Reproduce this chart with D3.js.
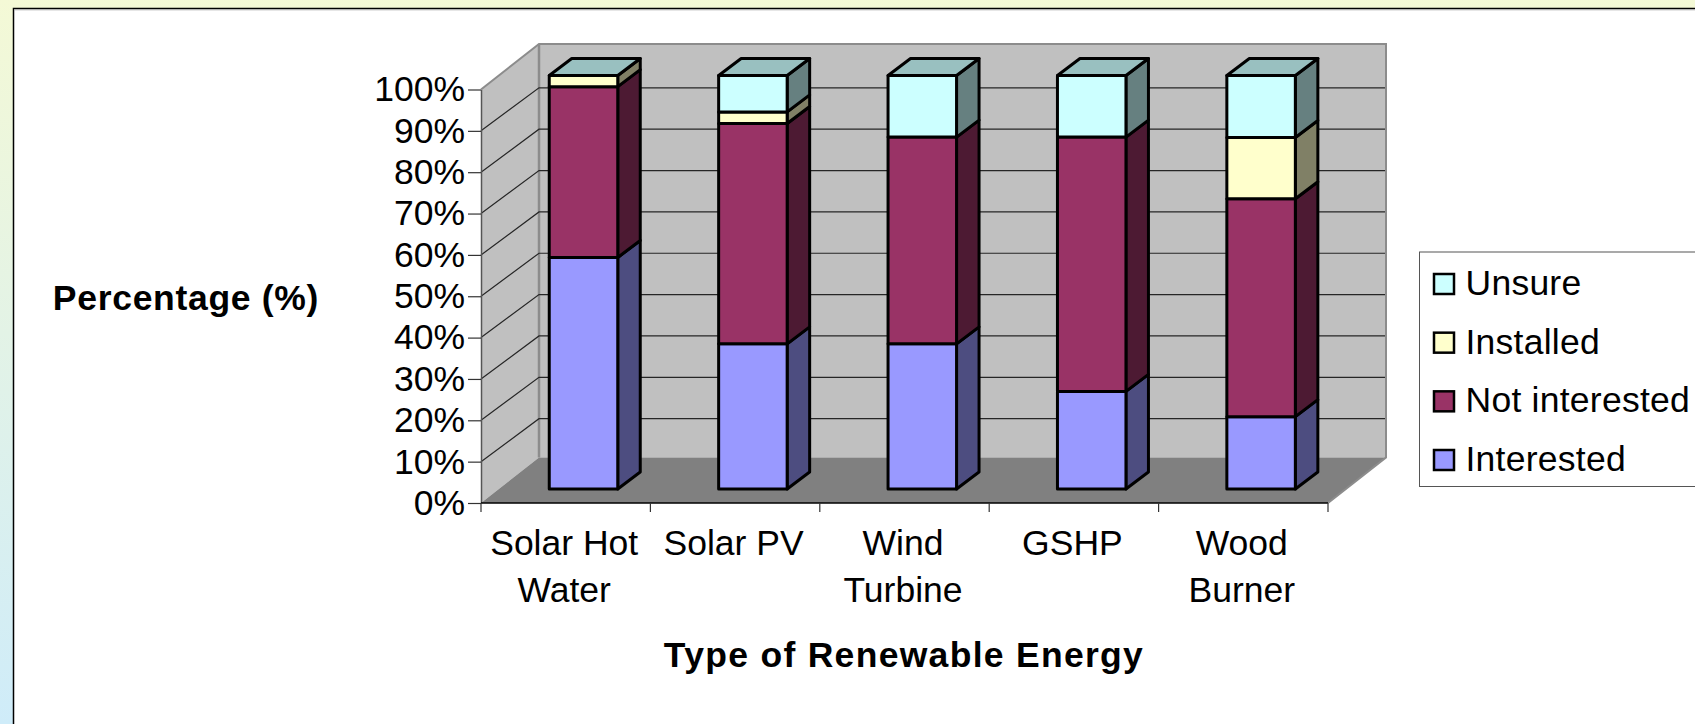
<!DOCTYPE html>
<html>
<head>
<meta charset="utf-8">
<script src="https://cdn.jsdelivr.net/npm/d3@7"></script>
<style>
html, body { margin: 0; padding: 0; background: #fff; overflow: hidden; }
svg { display: block; }
text { font-family: "Liberation Sans", Arial, sans-serif; fill: #000; }
</style>
</head>
<body>
<script>
var categories = ["Solar Hot Water", "Solar PV", "Wind Turbine", "GSHP", "Wood Burner"];
var categoryLines = [["Solar Hot", "Water"], ["Solar PV"], ["Wind", "Turbine"], ["GSHP"], ["Wood", "Burner"]];
var seriesNames = ["Interested", "Not interested", "Installed", "Unsure"];
var interested = [56, 35.1, 35.1, 23.6, 17.5];
var notInterested = [41.3, 53.3, 50, 61.5, 52.7];
var installed = [2.7, 2.8, 0, 0, 14.8];
var unsure = [0, 8.8, 14.9, 14.9, 15];
var seriesValues = [interested, notInterested, installed, unsure];
var yTicks = [0, 10, 20, 30, 40, 50, 60, 70, 80, 90, 100];

var frontColors = ["#9999ff", "#993366", "#ffffcc", "#ccffff"];
var sideColors = ["#4d4d80", "#4d1a33", "#808066", "#668080"];
var topColor = "#99c0c0";

var width = 1695, height = 724;

// plot box, front plane
var plot = {left: 481, right: 1328, top: 89.5, bottom: 503};
// how far the back wall is shifted from the front plane
var depth = {x: 58, y: -45.5};
// gridlines sit a little lower on the wall than the corners do
var gridRise = -43;
// one bar's depth, and its offset from the front plane
var barDepth = {x: 22.5, y: -17};
var barShift = {x: 17.8, y: -14};

var svg = d3.select("body").append("svg")
    .attr("width", width)
    .attr("height", height);

var defs = svg.append("defs");
var grad = defs.append("linearGradient")
    .attr("id", "pageBg")
    .attr("x1", 0).attr("y1", 0).attr("x2", 0).attr("y2", 1);
grad.append("stop").attr("offset", "0%").attr("stop-color", "#f4f9d6");
grad.append("stop").attr("offset", "100%").attr("stop-color", "#cfecf9");

svg.append("rect").attr("width", width).attr("height", height).attr("fill", "url(#pageBg)");

// white panel, runs off the right and bottom
svg.append("rect")
    .attr("x", 13.5).attr("y", 8.5)
    .attr("width", width).attr("height", height)
    .attr("fill", "#fff")
    .attr("stroke", "#000")
    .attr("stroke-width", 1.5);
svg.append("line")
    .attr("x1", 14).attr("x2", width)
    .attr("y1", 9.8).attr("y2", 9.8)
    .attr("stroke", "#aaa")
    .attr("stroke-width", 1);

var x = d3.scaleBand().domain(categories).range([plot.left, plot.right]);
var y = d3.scaleLinear().domain([0, 100]).range([plot.bottom, plot.top]);

function poly(pts) {
    return "M" + pts.map(function (p) { return p[0] + "," + p[1]; }).join("L") + "Z";
}

var chart = svg.append("g");

// side wall
chart.append("path")
    .attr("d", poly([
        [plot.left, plot.bottom], [plot.left, plot.top],
        [plot.left + depth.x, plot.top + depth.y], [plot.left + depth.x, plot.bottom + depth.y]
    ]))
    .attr("fill", "#c0c0c0");

// back wall
chart.append("rect")
    .attr("x", plot.left + depth.x)
    .attr("y", plot.top + depth.y)
    .attr("width", plot.right - plot.left)
    .attr("height", plot.bottom - plot.top)
    .attr("fill", "#c0c0c0");

// floor
chart.append("path")
    .attr("d", poly([
        [plot.left, plot.bottom], [plot.right, plot.bottom],
        [plot.right + depth.x, plot.bottom + depth.y], [plot.left + depth.x, plot.bottom + depth.y]
    ]))
    .attr("fill", "#808080");

// wall edges
chart.append("path")
    .attr("d", "M" + plot.left + "," + plot.top
        + "L" + (plot.left + depth.x) + "," + (plot.top + depth.y)
        + "L" + (plot.right + depth.x) + "," + (plot.top + depth.y)
        + "L" + (plot.right + depth.x) + "," + (plot.bottom + depth.y)
        + "L" + plot.right + "," + plot.bottom)
    .attr("fill", "none")
    .attr("stroke", "#8c8c8c")
    .attr("stroke-width", 2);
chart.append("line")
    .attr("x1", plot.left + depth.x).attr("x2", plot.left + depth.x)
    .attr("y1", plot.top + depth.y).attr("y2", plot.bottom + depth.y)
    .attr("stroke", "#8c8c8c")
    .attr("stroke-width", 2.5);

// gridlines: side wall then back wall
var grid = chart.append("g");
yTicks.slice(1, -1).forEach(function (t) {
    grid.append("path")
        .attr("d", "M" + plot.left + "," + y(t)
            + "L" + (plot.left + depth.x) + "," + (y(t) + gridRise)
            + "L" + (plot.right + depth.x - 1) + "," + (y(t) + gridRise))
        .attr("fill", "none")
        .attr("stroke", "#262626")
        .attr("stroke-width", 1.2);
});

// bars
var bars = chart.append("g")
    .attr("stroke", "#000")
    .attr("stroke-width", 3)
    .attr("stroke-linejoin", "round");

var barWidth = 68.5;
categories.forEach(function (cat, i) {
    var x0 = x(cat) + x.bandwidth() / 2 + barShift.x - barWidth / 2;
    var x1 = x0 + barWidth;
    var base = 0;
    seriesValues.forEach(function (vals, s) {
        var yBot = y(base) + barShift.y;
        base += vals[i];
        var yTop = y(base) + barShift.y;
        if (vals[i] > 0) {
            bars.append("path")
                .attr("d", poly([
                    [x1, yBot], [x1, yTop],
                    [x1 + barDepth.x, yTop + barDepth.y], [x1 + barDepth.x, yBot + barDepth.y]
                ]))
                .attr("fill", sideColors[s]);
            bars.append("rect")
                .attr("x", x0).attr("y", yTop)
                .attr("width", barWidth).attr("height", yBot - yTop)
                .attr("fill", frontColors[s]);
        }
        if (s === seriesValues.length - 1) {
            bars.append("path")
                .attr("d", poly([
                    [x0, yTop], [x1, yTop],
                    [x1 + barDepth.x, yTop + barDepth.y], [x0 + barDepth.x, yTop + barDepth.y]
                ]))
                .attr("fill", topColor);
        }
    });
});

// y axis
var yAxis = d3.axisLeft(y)
    .tickValues(yTicks)
    .tickSize(13)
    .tickSizeOuter(0)
    .tickPadding(3)
    .tickFormat(function (d) { return d + "%"; });
var yG = svg.append("g").attr("transform", "translate(" + plot.left + ",0)").call(yAxis);
yG.select(".domain").attr("stroke", "#555").attr("stroke-width", 1.5);
yG.selectAll(".tick line").attr("stroke", "#333").attr("stroke-width", 1.2);
yG.selectAll(".tick text").style("font-size", "35.5px").style("font-family", "Liberation Sans");

// x axis, ticks at the band edges
var xEdges = categories.map(function (c) { return x(c); }).concat([plot.right]);
var xBase = svg.append("g");
xBase.append("line")
    .attr("x1", plot.left).attr("x2", plot.right)
    .attr("y1", plot.bottom).attr("y2", plot.bottom)
    .attr("stroke", "#000").attr("stroke-width", 1.3);
xBase.selectAll(".edge").data(xEdges).enter().append("line")
    .attr("class", "edge")
    .attr("x1", function (d) { return d; })
    .attr("x2", function (d) { return d; })
    .attr("y1", plot.bottom)
    .attr("y2", plot.bottom + 9)
    .attr("stroke", "#333")
    .attr("stroke-width", 1.2);

categories.forEach(function (cat, i) {
    var t = xBase.append("text")
        .attr("text-anchor", "middle")
        .attr("font-size", 35.5);
    categoryLines[i].forEach(function (line, k) {
        t.append("tspan")
            .attr("x", x(cat) + x.bandwidth() / 2 - 1.5)
            .attr("y", 555 + k * 47)
            .text(line);
    });
});

// axis titles, the reference sets them slightly wider
svg.append("text")
    .attr("x", 904).attr("y", 667)
    .attr("text-anchor", "middle")
    .attr("font-size", 35.5)
    .attr("font-weight", "bold")
    .attr("letter-spacing", 1.3)
    .text("Type of Renewable Energy");
svg.append("text")
    .attr("x", 186).attr("y", 310)
    .attr("text-anchor", "middle")
    .attr("font-size", 35.5)
    .attr("font-weight", "bold")
    .attr("letter-spacing", 0.7)
    .text("Percentage (%)");

// legend, top entry is the last series
var legend = svg.append("g");
legend.append("rect")
    .attr("x", 1419.5).attr("y", 252)
    .attr("width", 400).attr("height", 234.5)
    .attr("fill", "#fff")
    .attr("stroke", "#555")
    .attr("stroke-width", 1);
var legendY = d3.scalePoint()
    .domain(seriesNames.slice().reverse())
    .range([284, 460]);
seriesNames.forEach(function (name, s) {
    legend.append("rect")
        .attr("x", 1434).attr("y", legendY(name) - 10)
        .attr("width", 20).attr("height", 20)
        .attr("fill", frontColors[s])
        .attr("stroke", "#000")
        .attr("stroke-width", 2.5);
    legend.append("text")
        .attr("x", 1465.5)
        .attr("y", legendY(name) + 11)
        .attr("font-size", 35.5)
        .attr("letter-spacing", 0.25)
        .text(name);
});
</script>
</body>
</html>
